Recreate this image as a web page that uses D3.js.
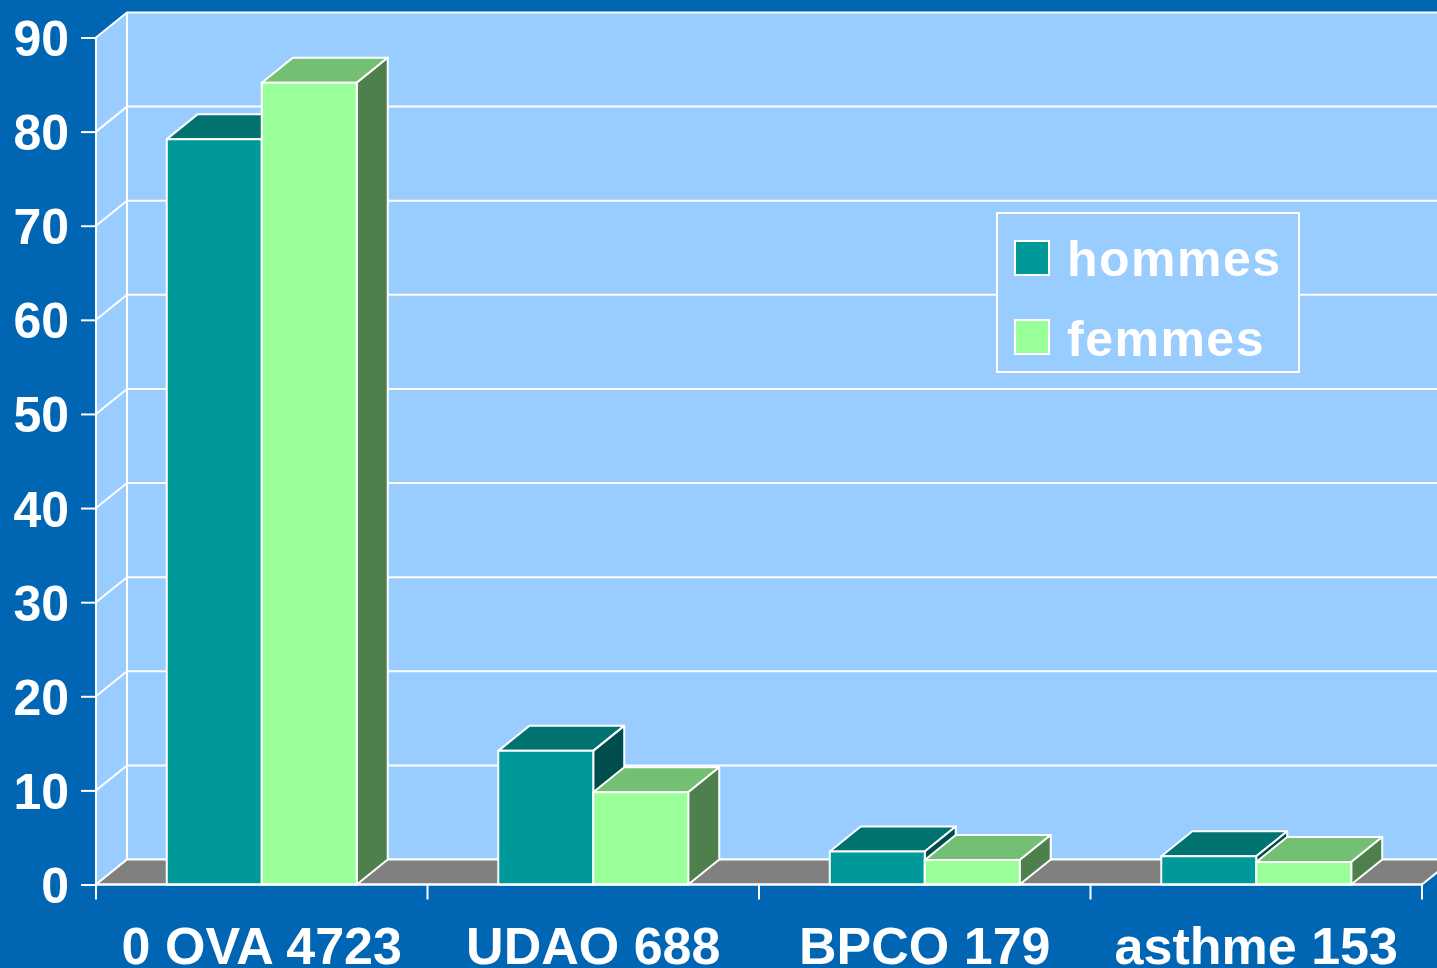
<!DOCTYPE html>
<html lang="fr">
<head>
    <meta charset="UTF-8">
    <script src="https://cdn.jsdelivr.net/npm/d3@7"></script>
    <style>
        body{ margin:0; background:#0066B3; overflow:hidden; }
        text{ font-family:"Liberation Sans", Arial, sans-serif; font-weight:bold; fill:#fff; }
    </style>
    <title>hommes / femmes</title>
</head>
<body>
    <svg width="1437" height="968"></svg>
    <script>
        // data (% of each sex)
        var categories = ["0 OVA 4723", "UDAO 688", "BPCO 179", "asthme 153"];
        var series = ["hommes", "femmes"];
        var hommes = [79.2, 14.2, 3.5, 3.0];
        var femmes = [85.2, 9.8, 2.6, 2.4];
        var yTicks = [0, 10, 20, 30, 40, 50, 60, 70, 80, 90];

        var colors = {
            hommes: {front:"#009999", top:"#007370", side:"#004D4D"},
            femmes: {front:"#99FF99", top:"#73BF73", side:"#4E804E"}
        };

        var svg = d3.select("svg");
        svg.append("rect").attr("width",1437).attr("height",968).attr("fill","#0066B3");

        var plotLeft = 96, plotRight = 1422, plotBottom = 884.5, plotTop = 37.5;
        var dx = 31, dy = -25; // depth offset of the 3d box

        var y = d3.scaleLinear().domain([0,90]).range([plotBottom, plotTop]);
        var x0 = d3.scaleBand().domain(categories).range([plotLeft, plotRight]);
        var x1 = d3.scaleBand().domain(series).range([0, x0.bandwidth()]).paddingOuter(0.745);

        var g = svg.append("g");

        // back wall + side wall
        g.append("rect")
            .attr("x", plotLeft+dx).attr("y", y(90)+dy)
            .attr("width", plotRight-plotLeft).attr("height", y(0)-y(90))
            .attr("fill","#99CCFF");
        g.append("path")
            .attr("d", "M"+plotLeft+","+y(0)+"L"+plotLeft+","+y(90)+"L"+(plotLeft+dx)+","+(y(90)+dy)+"L"+(plotLeft+dx)+","+(y(0)+dy)+"Z")
            .attr("fill","#99CCFF");

        // gridlines
        yTicks.forEach(function(t){
            g.append("path")
                .attr("d", "M"+plotLeft+","+y(t)+"L"+(plotLeft+dx)+","+(y(t)+dy)+"L"+(plotRight+dx+20)+","+(y(t)+dy))
                .attr("fill","none").attr("stroke","#fff").attr("stroke-width",2);
        });
        g.append("line")
            .attr("x1",plotLeft+dx).attr("x2",plotLeft+dx).attr("y1",y(0)+dy).attr("y2",y(90)+dy)
            .attr("stroke","#fff").attr("stroke-width",2);

        // floor
        g.append("path")
            .attr("d", "M"+plotLeft+","+y(0)+"L"+plotRight+","+y(0)+"L"+(plotRight+dx)+","+(y(0)+dy)+"L"+(plotLeft+dx)+","+(y(0)+dy)+"Z")
            .attr("fill","#808080").attr("stroke","#fff").attr("stroke-width",2);

        // 3d bars
        function box(sel, xl, w, v, c){
            var yt = y(v), yb = y(0);
            sel.append("path")
                .attr("d","M"+xl+","+yt+"L"+(xl+dx)+","+(yt+dy)+"L"+(xl+w+dx)+","+(yt+dy)+"L"+(xl+w)+","+yt+"Z")
                .attr("fill",c.top);
            sel.append("path")
                .attr("d","M"+(xl+w)+","+yt+"L"+(xl+w+dx)+","+(yt+dy)+"L"+(xl+w+dx)+","+(yb+dy)+"L"+(xl+w)+","+yb+"Z")
                .attr("fill",c.side);
            sel.append("rect")
                .attr("x",xl).attr("y",yt).attr("width",w).attr("height",yb-yt)
                .attr("fill",c.front);
            sel.selectAll("*").attr("stroke","#fff").attr("stroke-width",2).attr("stroke-linejoin","round");
        }
        var values = {hommes:hommes, femmes:femmes};
        categories.forEach(function(cat, i){
            series.forEach(function(s){
                box(g.append("g"), x0(cat)+x1(s), x1.bandwidth(), values[s][i], colors[s]);
            });
        });

        // axes
        g.append("line").attr("x1",plotLeft).attr("x2",plotLeft).attr("y1",y(0)).attr("y2",y(90))
            .attr("stroke","#fff").attr("stroke-width",2);
        g.append("line").attr("x1",plotLeft).attr("x2",plotRight).attr("y1",y(0)).attr("y2",y(0))
            .attr("stroke","#fff").attr("stroke-width",2);

        var yAxis = svg.append("g")
            .attr("transform","translate("+plotLeft+",0)")
            .call(d3.axisLeft(y).tickValues(yTicks).tickSize(15).tickPadding(12));
        yAxis.select(".domain").remove();
        yAxis.selectAll("line").attr("stroke","#fff").attr("stroke-width",2);
        yAxis.selectAll("text").attr("font-size","50px").attr("dy","0.36em")
            .attr("fill","#fff").attr("font-family",null);

        var xAxis = svg.append("g")
            .attr("transform","translate(0,"+y(0)+")")
            .call(d3.axisBottom(x0).tickSize(0).tickPadding(0));
        xAxis.select(".domain").remove();
        xAxis.selectAll("text").attr("font-size","52px").attr("y",79).attr("dy",0)
            .attr("fill","#fff").attr("font-family",null);
        // tick marks between categories
        svg.selectAll(".xtick")
            .data(categories.concat(["end"]))
            .enter().append("line")
            .attr("x1",function(d,i){ return i < categories.length ? x0(d) : plotRight; })
            .attr("x2",function(d,i){ return i < categories.length ? x0(d) : plotRight; })
            .attr("y1",y(0)).attr("y2",y(0)+15)
            .attr("stroke","#fff").attr("stroke-width",2);

        // legend
        var lg = svg.append("g").attr("transform","translate(997,213)");
        lg.append("rect").attr("width",302).attr("height",159)
            .attr("fill","#99CCFF").attr("stroke","#fff").attr("stroke-width",2);
        series.forEach(function(s, i){
            lg.append("rect").attr("x",18).attr("y",28+i*79).attr("width",34).attr("height",34)
                .attr("fill",colors[s].front).attr("stroke","#fff").attr("stroke-width",2);
            lg.append("text").attr("x",70).attr("y",63+i*80)
                .attr("font-size","50px").attr("letter-spacing","1.5px").text(s);
        });
    </script>
</body>
</html>
